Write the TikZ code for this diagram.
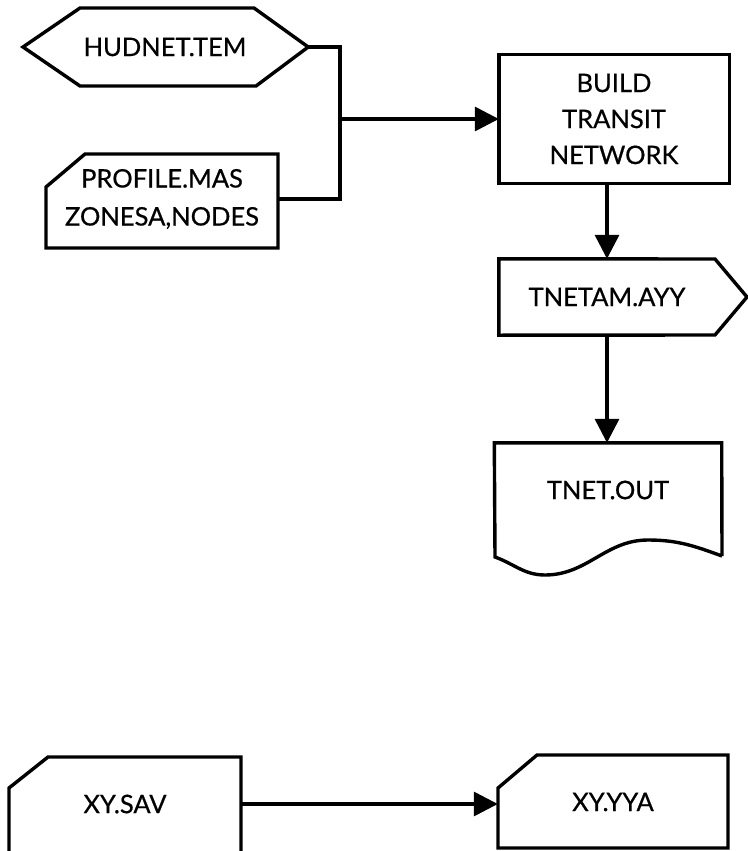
\documentclass[tikz,border=0pt]{standalone}
\usepackage{fontspec}
\setmainfont{Lato}[FakeBold=0.6]
\usepackage{tikz}
\usetikzlibrary{arrows.meta,calc}
\tikzset{
    shp/.style={line width=3.4pt, line join=miter},
    line/.style={line width=3.4pt},
    arrow/.style={line width=3.4pt, -{Triangle[length=24pt,width=24pt]}},
    txt/.style={inner sep=0pt, align=center, font=\fontsize{25.5}{38}\selectfont},
}

\begin{document}
\begin{tikzpicture}[x=1pt,y=-1pt]
\useasboundingbox (0,0) rectangle (747,851);

% file nodes
\node[txt, minimum width=286pt, minimum height=78pt] (hud) at (165,47) {HUDNET.TEM};
\node[txt, minimum width=232pt, minimum height=94pt] (prof) at (162,199) {PROFILE.MAS\\ZONESA,NODES};
\node[txt, minimum width=230pt, minimum height=128pt, font=\fontsize{25.5}{36}\selectfont] (build) at (614,119) {BUILD\\TRANSIT\\NETWORK};
\node[txt, minimum width=216pt, minimum height=76pt] (tnetam) at (607,297) {TNETAM.AYY};
\node[txt, minimum width=227pt, minimum height=94pt] (tout) at (608,490) {TNET.OUT};
\node[txt, minimum width=232pt, minimum height=94pt] (xysav) at (125,804) {XY.SAV};
\node[txt, minimum width=230pt, minimum height=93pt] (xyyya) at (613,802) {XY.YYA};

% outlines
\draw[shp] (23,47) -- (80,8) -- (254,8) -- (hud.east) -- (256,86) -- (80,86) -- cycle;
\draw[shp] (46,187) -- (85,154) -- (278,154) -- (278,248) -- (46,248) -- cycle;
\draw[shp] (build.north west) rectangle (build.south east);
\draw[shp] (tnetam.north west) -- (715,259) -- (747,297) -- (715,335) -- (tnetam.south west) -- cycle;
\draw[shp] (722,556) -- (tout.north east) -- (tout.north west) -- (495,557)
    to[out=-20,in=180] (545,575) to[out=0,in=180] (648,540) to[out=0,in=160] (722,556);
\draw[shp] (9,870) -- (9,788) -- (48,757) -- (241,757) -- (241,870);
\draw[shp] (498,848) -- (498,788) -- (537,755) -- (728,755) -- (728,848) -- cycle;

% connectors
\coordinate (joint) at (340,119);
\draw[line] (hud.east) -| (joint);
\draw[line] (prof.east) -| (joint);
\draw[arrow] (joint) -- (build.west);
\draw[arrow] (tnetam.north |- build.south) -- (tnetam.north);
\draw[arrow] (tnetam.south) -- (tnetam.south |- tout.north);
\draw[arrow] (xysav.east) -- (xysav.east -| xyyya.west);
\end{tikzpicture}
\end{document}
